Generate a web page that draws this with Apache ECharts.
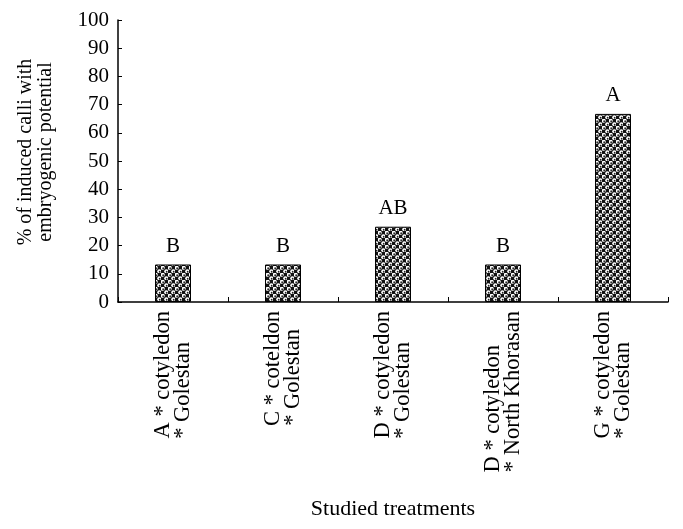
<!DOCTYPE html>
<html>
<head>
<meta charset="utf-8">
<script src="https://cdn.jsdelivr.net/npm/echarts@6/dist/echarts.min.js"></script>
<style>html,body{margin:0;padding:0;background:#fff;}#c{width:683px;height:529px;}</style>
</head>
<body>
<div id="c"></div>
<script>
const categories = [
  'A * cotyledon\n* Golestan',
  'C * coteldon\n* Golestan',
  'D * cotyledon\n* Golestan',
  'D * cotyledon\n* North Khorasan',
  'G * cotyledon\n* Golestan'
];
const values = [13.3, 13.3, 26.7, 13.3, 66.7];
const letters = ['B', 'B', 'AB', 'B', 'A'];
const yTitle = '% of induced calli with\nembryogenic potential';
const xTitle = 'Studied treatments';

// hatch pattern tile
const tile = document.createElement('canvas');
tile.width = 7; tile.height = 7;
const g = tile.getContext('2d');
g.fillStyle = '#111';
g.fillRect(0, 0, 7, 7);
function dot(x, y) {
  g.fillStyle = '#fff';
  g.beginPath(); g.arc(x, y, 2.0, 0, Math.PI * 2); g.fill();
  g.fillStyle = '#222';
  g.beginPath(); g.arc(x + 0.4, y + 0.5, 0.9, 0, Math.PI * 2); g.fill();
}
dot(1.75, 1.75); dot(5.25, 5.25);

const font = 'Liberation Serif';
const catSize = 22.5;

// left-align the lines of each rotated category label (pad shorter lines at their end)
const mctx = document.createElement('canvas').getContext('2d');
mctx.font = catSize + 'px "' + font + '"';
const rich = {};
const catFormatted = {};
categories.forEach((c, i) => {
  const lines = c.split('\n');
  const w = lines.map(s => mctx.measureText(s).width);
  const mx = Math.max.apply(null, w);
  catFormatted[c] = lines.map((s, k) => {
    const key = 'l' + i + '_' + k;
    rich[key] = { fontFamily: font, fontSize: catSize, color: '#000', lineHeight: 20,
                  padding: [0, Math.round(mx - w[k]), 0, 0] };
    return '{' + key + '|' + s + '}';
  }).join('\n');
});

const chart = echarts.init(document.getElementById('c'));
chart.setOption({
  animation: false,
  backgroundColor: '#fff',
  grid: { left: 118, right: 15, top: 20, bottom: 227 },
  xAxis: {
    type: 'category',
    data: categories,
    name: xTitle,
    nameLocation: 'middle',
    nameGap: 196,
    nameTextStyle: { fontFamily: font, fontSize: 22, color: '#000' },
    axisLine: { lineStyle: { color: '#000', width: 1.5 } },
    axisTick: { show: true, inside: true, length: 5, lineStyle: { color: '#000' } },
    axisLabel: {
      rotate: 90,
      margin: 9,
      interval: 0,
      color: '#000',
      fontFamily: font,
      fontSize: catSize,
      formatter: v => catFormatted[v],
      rich: rich
    }
  },
  yAxis: {
    type: 'value',
    min: 0, max: 100, interval: 10,
    name: yTitle,
    nameLocation: 'middle',
    nameGap: 62,
    nameTextStyle: { fontFamily: font, fontSize: 20, color: '#000', lineHeight: 20, padding: [0, 0, 0, 18] },
    axisLine: { show: true, lineStyle: { color: '#000', width: 1.5 } },
    axisTick: { show: true, inside: true, length: 4, lineStyle: { color: '#000' } },
    splitLine: { show: false },
    axisLabel: { color: '#000', fontFamily: font, fontSize: 21, margin: 9 }
  },
  series: [{
    type: 'bar',
    data: values,
    barWidth: 36,
    itemStyle: {
      color: { image: tile, repeat: 'repeat' },
      borderColor: '#000',
      borderWidth: 1
    },
    label: {
      show: true,
      position: 'top',
      distance: 8,
      color: '#000',
      fontFamily: font,
      fontSize: 21,
      formatter: p => letters[p.dataIndex]
    }
  }]
});
</script>
</body>
</html>
